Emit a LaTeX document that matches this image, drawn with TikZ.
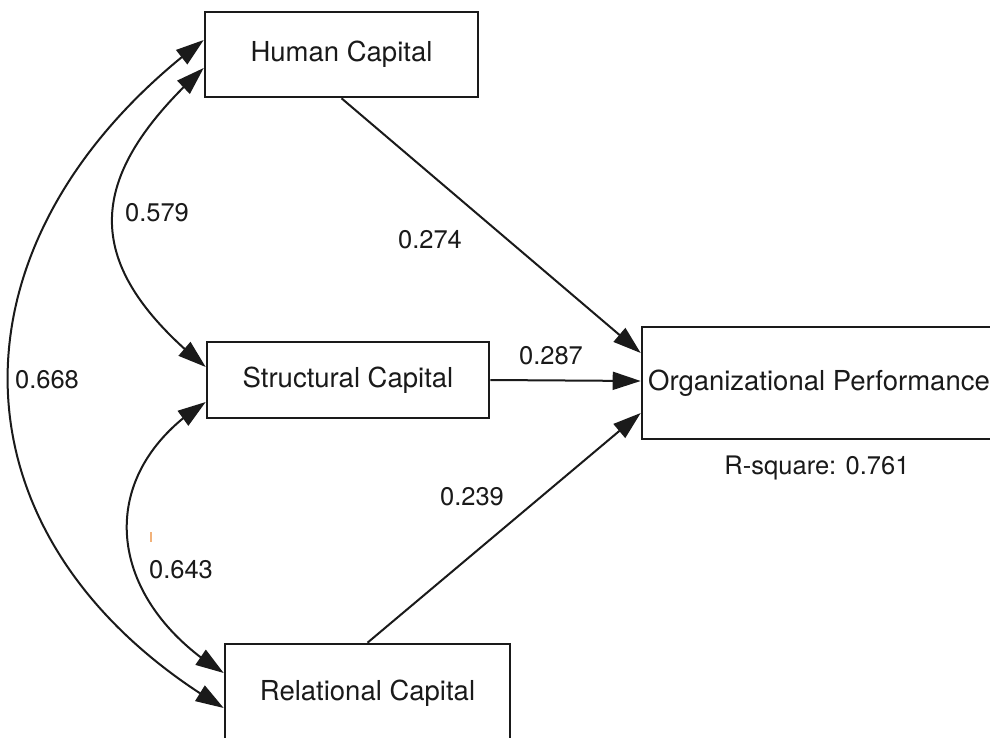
\documentclass[tikz,border=0pt]{standalone}
\usepackage{fontspec}
\setmainfont{TeX Gyre Heros}
\usetikzlibrary{arrows.meta,calc,bending}
\definecolor{ink}{HTML}{1A1A1A}
\definecolor{tick}{HTML}{F2B27A}
\begin{document}
\begin{tikzpicture}[x=1pt,y=-1pt,
  box/.style={draw=ink, line width=2.6pt, fill=white, inner sep=0pt,
              font=\fontsize{27.5}{32}\selectfont, text=ink},
  coef/.style={font=\fontsize{25.5}{30}\selectfont, text=ink, inner sep=0pt},
  regpath/.style={line width=2pt, draw=ink, -{Triangle[length=28pt,width=18pt]}},
  covpath/.style={line width=2pt, draw=ink,
                  {Triangle[length=28pt,width=18pt]}-{Triangle[length=28pt,width=18pt]}}]
\useasboundingbox (0,0) rectangle (990,738);
\clip (0,0) rectangle (990,738);
\fill[white] (0,0) rectangle (990,738);

% constructs
\node[box, minimum width=273pt, minimum height=85pt] (hc) at (341.5,54.5) {Human Capital};
\node[box, minimum width=282pt, minimum height=76pt] (sc) at (348,380) {Structural Capital};
\node[box, minimum width=285pt, minimum height=98pt] (rc) at (367.5,693) {Relational Capital};
\node[box, minimum width=354pt, minimum height=112pt] (op) at (819,383) {Organizational Performance};

% anchor points on the left sides for the correlations
\coordinate (hcA) at ($(hc.west)+(0,-14.5)$);
\coordinate (hcB) at ($(hc.west)+(0,13.5)$);
\coordinate (scA) at ($(sc.west)+(0,-13)$);
\coordinate (scB) at ($(sc.west)+(0,22)$);
\coordinate (rcA) at ($(rc.west)+(0,-20)$);
\coordinate (rcB) at ($(rc.west)+(0,15)$);

% structural paths
\draw[regpath] (hc.south) -- ($(op.west)+(0,-30)$);
\draw[regpath] (sc.east) -- ($(op.west)+(0,-2)$);
\draw[regpath] (rc.north) -- ($(op.west)+(0,30)$);

% correlations
\draw[covpath] (hcB) .. controls (83,178) and (79,264) .. (scA);
\draw[covpath] (scB) .. controls (90,475) and (106,601) .. (rcA);
\draw[covpath] (hcA) .. controls (-63,240) and (-59,541) .. (rcB);

% coefficients
\node[coef] (l579) at (157,213) {0.579};
\node[coef] (l668) at (47,380) {0.668};
\node[coef] (l643) at (181,570) {0.643};
\node[coef] (l274) at (430,240) {0.274};
\node[coef] (l287) at (551,356) {0.287};
\node[coef] (l239) at (472,497) {0.239};
\node[coef] (rsq) at (817,468) {R-square: 0.761};

% small stray tick
\draw[tick, line width=1.4pt] (151,532) -- (151,542);
\end{tikzpicture}
\end{document}
